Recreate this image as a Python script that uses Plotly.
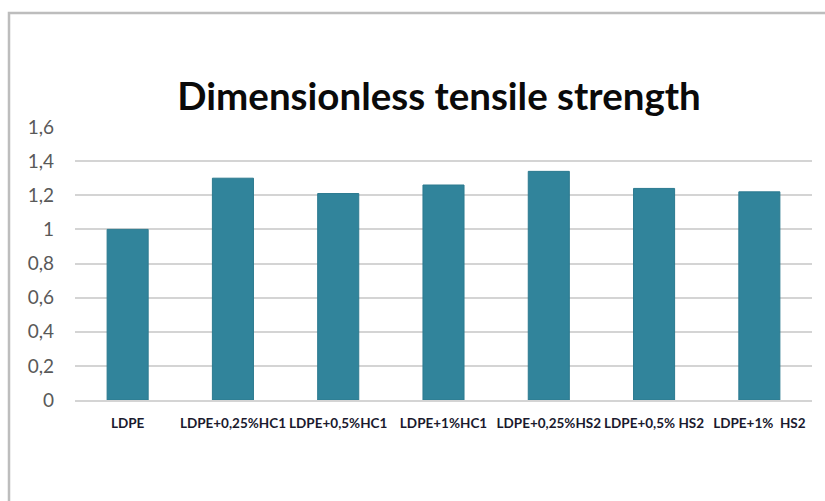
import plotly.graph_objects as go

# Samples and their tensile strength relative to neat LDPE
samples = [
    "LDPE",
    "LDPE+0,25%HC1",
    "LDPE+0,5%HC1",
    "LDPE+1%HC1",
    "LDPE+0,25%HS2",
    "LDPE+0,5% HS2",
    "LDPE+1%  HS2",
]
strength = [1.00, 1.30, 1.21, 1.26, 1.34, 1.24, 1.22]

y_ticks = [0, 0.2, 0.4, 0.6, 0.8, 1.0, 1.2, 1.4, 1.6]

W, H = 825, 501
ML, MR, MT, MB = 75, 13, 127, 101
pw, ph = W - ML - MR, H - MT - MB

fig = go.Figure(
    go.Bar(
        x=samples,
        y=strength,
        marker=dict(color="#31849B", line=dict(color="#2C7A8F", width=1)),
        hoverinfo="x+y",
    )
)

# Outer chart frame (left and top edges visible, running off the page)
fx = (9 - ML) / pw
fy = 1 + (MT - 13) / ph
fy_bottom = -(MB + 20) / ph
fig.add_shape(
    type="path",
    xref="paper",
    yref="paper",
    path=f"M {fx} {fy_bottom} L {fx} {fy} L 1.2 {fy}",
    line=dict(color="#BDBDBD", width=2.5),
    layer="below",
)

fig.update_layout(
    width=W,
    height=H,
    margin=dict(l=ML, r=MR, t=MT, b=MB),
    paper_bgcolor="white",
    plot_bgcolor="white",
    separators=",.",
    bargap=0.61,
    showlegend=False,
    title=dict(
        text="<b>Dimensionless tensile strength</b>",
        font=dict(family="Lato", size=38.5, color="#0A0A0A"),
        x=0.494,
        xref="paper",
        xanchor="center",
        y=1 - 97 / H,
        yref="container",
        yanchor="middle",
    ),
    xaxis=dict(
        type="category",
        showgrid=False,
        showline=True,
        linecolor="#D4D4D4",
        linewidth=2,
        ticks="",
        tickfont=dict(family="Lato", size=13.5, color="#1A1A2E", weight="bold"),
        tickangle=0,
        ticklabelstandoff=10,
    ),
    yaxis=dict(
        range=[0, 1.6],
        tickvals=y_ticks,
        showgrid=True,
        gridcolor="#D4D4D4",
        gridwidth=2,
        zeroline=False,
        showline=False,
        ticks="",
        tickfont=dict(family="Lato", size=19, color="#595959"),
        ticklabelstandoff=20,
    ),
)

fig.write_html("out.html")
